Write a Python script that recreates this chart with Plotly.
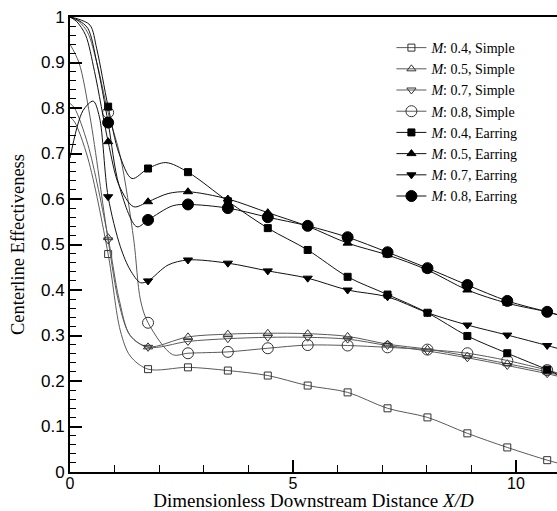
import plotly.graph_objects as go

# ---------------- data ----------------
X_MARK = [0.855, 1.75, 2.645, 3.54, 4.435, 5.33, 6.225, 7.12, 8.015, 8.91, 9.805, 10.70]
X_END = 10.92

SERIES_NAMES = ["<i>M</i>: 0.4, Simple", "<i>M</i>: 0.5, Simple", "<i>M</i>: 0.7, Simple",
                "<i>M</i>: 0.8, Simple", "<i>M</i>: 0.4, Earring", "<i>M</i>: 0.5, Earring",
                "<i>M</i>: 0.7, Earring", "<i>M</i>: 0.8, Earring"]

# values at the marker positions
S04_MARK = [0.479, 0.226, 0.230, 0.223, 0.212, 0.190, 0.175, 0.140, 0.120, 0.085, 0.054, 0.026]
S05_MARK = [0.515, 0.275, 0.297, 0.303, 0.305, 0.304, 0.298, 0.281, 0.270, 0.255, 0.238, 0.220]
S07_MARK = [0.510, 0.274, 0.287, 0.293, 0.296, 0.296, 0.292, 0.278, 0.266, 0.251, 0.234, 0.216]
S08_MARK = [0.790, 0.328, 0.261, 0.264, 0.272, 0.279, 0.278, 0.274, 0.269, 0.261, 0.245, 0.224]
E04_MARK = [0.803, 0.667, 0.659, 0.595, 0.536, 0.488, 0.429, 0.390, 0.350, 0.299, 0.261, 0.225]
E05_MARK = [0.726, 0.594, 0.616, 0.600, 0.570, 0.540, 0.503, 0.477, 0.444, 0.400, 0.371, 0.352]
E07_MARK = [0.605, 0.420, 0.466, 0.459, 0.442, 0.426, 0.400, 0.385, 0.350, 0.323, 0.301, 0.278]
E08_MARK = [0.768, 0.554, 0.588, 0.580, 0.560, 0.541, 0.516, 0.483, 0.448, 0.411, 0.376, 0.352]

# additional curve points (between / outside marker positions)
S04_EX_X = [0.0, 0.1, 0.4, 1.13, 1.35, X_END]
S04_EX_Y = [0.780, 0.770, 0.690, 0.310, 0.255, 0.020]
S05_EX_X = [0.0, 0.1, 0.4, 1.1, 1.35, X_END]
S05_EX_Y = [0.810, 0.800, 0.720, 0.380, 0.300, 0.214]
S07_EX_X = [0.0, 0.2, 0.45, 1.1, 1.35, X_END]
S07_EX_Y = [0.940, 0.900, 0.780, 0.370, 0.300, 0.211]
S08_EX_X = [0.0, 0.2, 0.4, 0.6, 1.13, 1.43, 1.58, 2.3, X_END]
S08_EX_Y = [1.000, 0.990, 0.965, 0.900, 0.693, 0.510, 0.378, 0.258, 0.218]
E04_EX_X = [0.0, 0.2, 0.45, 0.6, 1.1, 1.39, 2.15, X_END]
E04_EX_Y = [1.000, 0.995, 0.982, 0.930, 0.700, 0.645, 0.680, 0.215]
E05_EX_X = [0.0, 0.15, 0.35, 0.55, 1.1, 1.43, 2.2, X_END]
E05_EX_Y = [1.000, 0.990, 0.960, 0.880, 0.630, 0.583, 0.612, 0.346]
E07_EX_X = [0.0, 0.29, 0.52, 0.66, 1.13, 1.35, 1.58, 2.2, X_END]
E07_EX_Y = [0.690, 0.794, 0.815, 0.780, 0.495, 0.444, 0.416, 0.455, 0.272]
E08_EX_X = [0.0, 0.2, 0.4, 0.6, 1.1, 1.5, 2.3, X_END]
E08_EX_Y = [1.000, 0.992, 0.975, 0.900, 0.630, 0.539, 0.585, 0.346]

MARKS = [S04_MARK, S05_MARK, S07_MARK, S08_MARK, E04_MARK, E05_MARK, E07_MARK, E08_MARK]
EX_X = [S04_EX_X, S05_EX_X, S07_EX_X, S08_EX_X, E04_EX_X, E05_EX_X, E07_EX_X, E08_EX_X]
EX_Y = [S04_EX_Y, S05_EX_Y, S07_EX_Y, S08_EX_Y, E04_EX_Y, E05_EX_Y, E07_EX_Y, E08_EX_Y]

# ---------------- styles ----------------
SYMBOLS = ["square-open", "triangle-up-open", "triangle-down-open", "circle-open",
           "square", "triangle-up", "triangle-down", "circle"]
SIZES = [7, 8, 8, 11, 7, 8, 8, 11]
LINE_COLORS = ["#5a5a5a"] * 4 + ["#111111"] * 4
MARK_COLORS = ["#333333"] * 4 + ["#000000"] * 4

fig = go.Figure()
for i, name in enumerate(SERIES_NAMES):
    pts = sorted(list(zip(X_MARK, MARKS[i])) + list(zip(EX_X[i], EX_Y[i])))
    xs = [p[0] for p in pts]
    ys = [p[1] for p in pts]
    fig.add_trace(go.Scatter(x=xs, y=ys, mode="lines", showlegend=False,
                             line=dict(color=LINE_COLORS[i], width=1, shape="spline", smoothing=0.9),
                             hoverinfo="skip"))
    fig.add_trace(go.Scatter(x=X_MARK, y=MARKS[i], mode="markers", showlegend=False,
                             marker=dict(symbol=SYMBOLS[i], size=SIZES[i], color=MARK_COLORS[i],
                                         line=dict(width=1, color=MARK_COLORS[i]))))
    # legend entry
    fig.add_trace(go.Scatter(x=[None], y=[None], mode="lines+markers", name=name,
                             line=dict(color=LINE_COLORS[i], width=1),
                             marker=dict(symbol=SYMBOLS[i], size=SIZES[i], color=MARK_COLORS[i],
                                         line=dict(width=1, color=MARK_COLORS[i]))))

fig.update_layout(
    width=557, height=511,
    margin=dict(l=70, r=0, t=17, b=39, autoexpand=False),
    paper_bgcolor="white", plot_bgcolor="white",
    showlegend=True,
    legend=dict(x=0.66, y=0.967, xanchor="left", yanchor="top",
                font=dict(family="Liberation Serif", size=14, color="black"),
                bgcolor="rgba(255,255,255,0)", borderwidth=0),
    xaxis=dict(range=[0, X_END], showgrid=False, zeroline=False,
               showline=True, linecolor="black", linewidth=2, mirror=True,
               ticks="inside", ticklen=12, tickwidth=1.5, tickcolor="black",
               tick0=0, dtick=5, ticklabelstandoff=-4,
               minor=dict(dtick=1, ticks="inside", ticklen=7, tickcolor="black", tickwidth=1),
               tickfont=dict(family="Liberation Sans", size=16, color="black"),
               title=dict(text="Dimensionless Downstream Distance <i>X/D</i>",
                          font=dict(family="Liberation Serif", size=19, color="black"),
                          standoff=6)),
    yaxis=dict(range=[0, 1], showgrid=False, zeroline=False,
               showline=True, linecolor="black", linewidth=2, mirror=False,
               ticks="inside", ticklen=12, tickwidth=1.5, tickcolor="black",
               tick0=0, dtick=0.1,
               minor=dict(dtick=0.02, ticks="inside", ticklen=6, tickcolor="black", tickwidth=1),
               tickfont=dict(family="Liberation Sans", size=17, color="black"),
               title=dict(text="Centerline Effectiveness",
                          font=dict(family="Liberation Serif", size=18.5, color="black"),
                          standoff=11)),
)

fig.write_html("out.html", config={"displayModeBar": False},
               post_script="document.body.style.margin='0';document.body.style.overflow='hidden';")
